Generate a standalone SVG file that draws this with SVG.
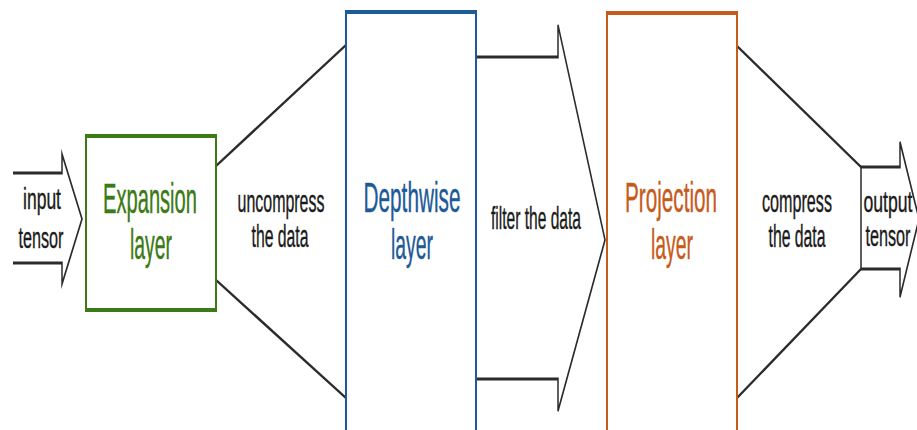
<svg xmlns="http://www.w3.org/2000/svg" width="917" height="430" viewBox="0 0 917 430">
<style>
.ln{fill:none;stroke:#2b2b2b;stroke-width:3;stroke-linejoin:miter}
.bx{fill:none;stroke-width:4}
.t{font-family:"Liberation Sans",Arial,sans-serif;text-anchor:middle;fill:#1a1a1a;stroke:#1a1a1a;stroke-width:0.4;font-size:31px}
.s{font-size:30px}
.h{font-size:42px}
.g{fill:#3b7a14;stroke:#3b7a14}
.b{fill:#1d5a97;stroke:#1d5a97}
.o{fill:#c75b1c;stroke:#c75b1c}
</style>
<rect width="917" height="430" fill="#fff"/>
<g transform="scale(0.5 1)">
  <g id="connectors">
    <path class="ln" d="M26,173 H124 V154 L164,219 L124,284 V263 H26"/>
    <path class="ln" d="M432,166 L692,45"/>
    <path class="ln" d="M432,280 L692,398"/>
    <path class="ln" d="M952,57 H1116 V25 L1210,240 L1116,411 V379 H952"/>
    <path class="ln" d="M1474,46 L1722,167"/>
    <path class="ln" d="M1474,398 L1722,269"/>
  </g>
  <g id="expansion-box"><rect class="bx" x="172" y="136" width="260" height="174" stroke="#3b7a14"/></g>
  <g id="depthwise-box"><rect class="bx" x="692" y="12" width="260" height="420" stroke="#1d5a97"/></g>
  <g id="projection-box"><rect class="bx" x="1214" y="13" width="260" height="419" stroke="#c75b1c"/></g>
  <g id="output-arrow"><path class="ln" d="M1722,167 H1800 V142 L1838,219 L1800,297 V269 H1722 Z"/></g>
</g>
<g id="input">
  <text class="t s" transform="translate(42 209) scale(0.584 1)">input</text>
  <text class="t s" transform="translate(41 248) scale(0.54 1)">tensor</text>
</g>
<g id="expansion">
  <text class="t h g" transform="translate(150 213) scale(0.479 1)">Expansion</text>
  <text class="t h g" transform="translate(151 259) scale(0.462 1)">layer</text>
</g>
<g id="uncompress">
  <text class="t" transform="translate(281 212) scale(0.515 1)">uncompress</text>
  <text class="t" transform="translate(280 247) scale(0.509 1)">the data</text>
</g>
<g id="depthwise">
  <text class="t h b" transform="translate(412 212) scale(0.495 1)">Depthwise</text>
  <text class="t h b" transform="translate(412 259) scale(0.462 1)">layer</text>
</g>
<g id="filter">
  <text class="t" transform="translate(536 229) scale(0.502 1)">filter the data</text>
</g>
<g id="projection">
  <text class="t h o" transform="translate(671 212) scale(0.493 1)">Projection</text>
  <text class="t h o" transform="translate(672 259) scale(0.462 1)">layer</text>
</g>
<g id="compress">
  <text class="t" transform="translate(797 212) scale(0.521 1)">compress</text>
  <text class="t" transform="translate(797 247) scale(0.509 1)">the data</text>
</g>
<g id="output">
  <text class="t s" transform="translate(888 212) scale(0.588 1)">output</text>
  <text class="t s" transform="translate(888 246) scale(0.54 1)">tensor</text>
</g>
</svg>
